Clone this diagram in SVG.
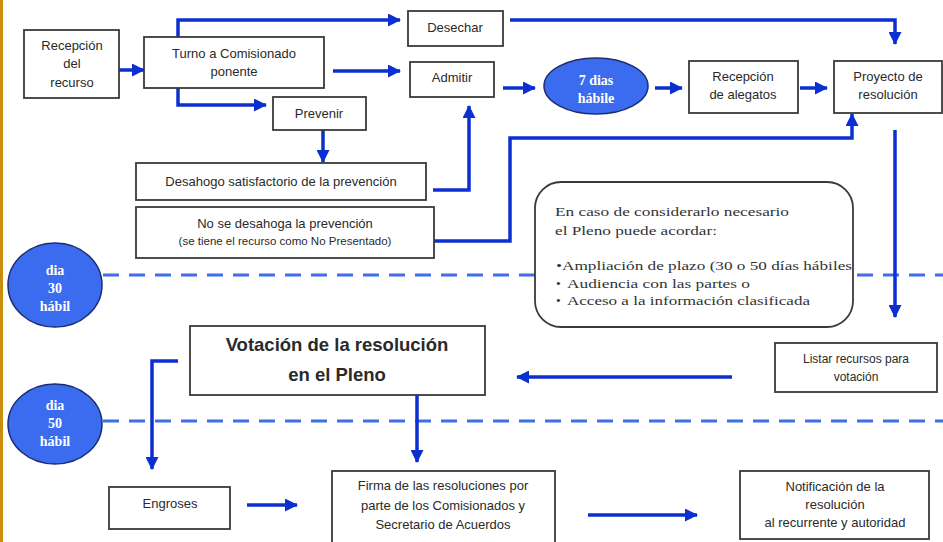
<svg xmlns="http://www.w3.org/2000/svg" width="943" height="542" viewBox="0 0 943 542">
<defs>
<style>
.box{fill:#fff;stroke:#3a3a3a;stroke-width:1.8}
.t{font-family:"Liberation Sans",Arial,sans-serif;font-size:13px;fill:#2a2a2a;text-anchor:middle}
.ts{font-family:"Liberation Serif","Times New Roman",serif;font-size:13.5px;fill:#333}
.tw{font-family:"Liberation Serif","Times New Roman",serif;font-size:14px;font-weight:bold;fill:#fff;text-anchor:middle}
.oval{fill:#3b6cf0;stroke:#1c2c70;stroke-width:1.5}
.c{fill:none;stroke:#0b2fd0;stroke-width:3.5}
.dash{fill:none;stroke:#3d6eea;stroke-width:3;stroke-dasharray:16 10}
</style>
<marker id="ah" markerUnits="userSpaceOnUse" markerWidth="13" markerHeight="13" refX="12" refY="6.5" orient="auto">
<path d="M0,0 L13,6.5 L0,13 z" fill="#0b2fd0"/>
</marker>
</defs>
<rect x="0" y="0" width="943" height="542" fill="#fff"/>
<rect x="0" y="0" width="3" height="542" fill="#c98d0b"/>

<g id="timelines">
<path class="dash" d="M103,275 H943"/>
<path class="dash" d="M103,421 H943"/>
</g>

<g id="connectors" marker-end="url(#ah)">
<path class="c" d="M119,70 H144" marker-end="url(#ah)"/>
<path class="c" d="M178,37 V20 H400" marker-end="url(#ah)"/>
<path class="c" d="M178,88 V105 H266" marker-end="url(#ah)"/>
<path class="c" d="M333,71 H400" marker-end="url(#ah)"/>
<path class="c" d="M510,20 H895 V44" marker-end="url(#ah)"/>
<path class="c" d="M503,88 H535" marker-end="url(#ah)"/>
<path class="c" d="M655,88 H682" marker-end="url(#ah)"/>
<path class="c" d="M800,88 H827" marker-end="url(#ah)"/>
<path class="c" d="M323,130 V162" marker-end="url(#ah)"/>
<path class="c" d="M433,190 H469 V106" marker-end="url(#ah)"/>
<path class="c" d="M434,241 H510 V138 H852 V114" marker-end="url(#ah)"/>
<path class="c" d="M895,130 V317" marker-end="url(#ah)"/>
<path class="c" d="M732,377 H517" marker-end="url(#ah)"/>
<path class="c" d="M178,361 H152 V469" marker-end="url(#ah)"/>
<path class="c" d="M417,395 V462" marker-end="url(#ah)"/>
<path class="c" d="M247,505 H297" marker-end="url(#ah)"/>
<path class="c" d="M588,515 H697" marker-end="url(#ah)"/>
</g>

<g id="recepcion-recurso">
<rect class="box" x="24" y="30" width="95" height="68"/>
<text class="t" x="72" y="50">Recepción</text>
<text class="t" x="72" y="68">del</text>
<text class="t" x="72" y="87">recurso</text>
</g>

<g id="turno">
<rect class="box" x="144" y="37" width="180" height="51"/>
<text class="t" x="234" y="58">Turno a Comisionado</text>
<text class="t" x="234" y="76">ponente</text>
</g>

<g id="prevenir">
<rect class="box" x="273" y="97" width="93" height="33"/>
<text class="t" x="319" y="118">Prevenir</text>
</g>

<g id="desechar">
<rect class="box" x="408" y="11" width="95" height="35"/>
<text class="t" x="455" y="32">Desechar</text>
</g>

<g id="admitir">
<rect class="box" x="410" y="62" width="84" height="35"/>
<text class="t" x="452" y="82">Admitir</text>
</g>

<g id="siete-dias">
<ellipse class="oval" cx="596" cy="86" rx="52" ry="28"/>
<text class="tw" x="596" y="85">7 dias</text>
<text class="tw" x="596" y="103">hábile</text>
</g>

<g id="recepcion-alegatos">
<rect class="box" x="689" y="61" width="109" height="52"/>
<text class="t" x="743" y="81">Recepción</text>
<text class="t" x="743" y="99">de alegatos</text>
</g>

<g id="proyecto">
<rect class="box" x="834" y="61" width="108" height="52"/>
<text class="t" x="888" y="81">Proyecto de</text>
<text class="t" x="888" y="99">resolución</text>
</g>

<g id="desahogo-satisfactorio">
<rect class="box" x="136" y="163" width="290" height="37"/>
<text class="t" x="281" y="186">Desahogo satisfactorio de la prevención</text>
</g>

<g id="no-desahoga">
<rect class="box" x="136" y="207" width="298" height="51"/>
<text class="t" x="285" y="228">No se desahoga la prevención</text>
<text class="t" x="285" y="245" style="font-size:11.5px">(se tiene el recurso como No Presentado)</text>
</g>

<g id="pleno-nota">
<rect class="box" x="535" y="182" width="318" height="145" rx="26" ry="26"/>
<text class="ts" x="555" y="216" textLength="234" lengthAdjust="spacingAndGlyphs">En caso de considerarlo necesario</text>
<text class="ts" x="555" y="235" textLength="162" lengthAdjust="spacingAndGlyphs">el Pleno puede acordar:</text>
<text class="ts" x="556" y="270" textLength="296" lengthAdjust="spacingAndGlyphs">•Ampliación de plazo (30 o 50 días hábiles</text>
<text class="ts" x="556" y="288">•</text>
<text class="ts" x="567" y="288" textLength="183" lengthAdjust="spacingAndGlyphs">Audiencia con las partes o</text>
<text class="ts" x="556" y="305">•</text>
<text class="ts" x="567" y="305" textLength="243" lengthAdjust="spacingAndGlyphs">Acceso a la información clasificada</text>
</g>

<g id="dia-30">
<ellipse class="oval" cx="55" cy="285" rx="47" ry="42"/>
<text class="tw" x="55" y="275">dia</text>
<text class="tw" x="55" y="293">30</text>
<text class="tw" x="55" y="311">hábil</text>
</g>

<g id="dia-50">
<ellipse class="oval" cx="55" cy="424" rx="47" ry="40"/>
<text class="tw" x="55" y="410">dia</text>
<text class="tw" x="55" y="428">50</text>
<text class="tw" x="55" y="446">hábil</text>
</g>

<g id="votacion">
<rect class="box" x="190" y="326" width="295" height="69"/>
<text class="t" x="337" y="351" style="font-size:18.5px;font-weight:bold">Votación de la resolución</text>
<text class="t" x="337" y="381" style="font-size:18.5px;font-weight:bold">en el Pleno</text>
</g>

<g id="listar">
<rect class="box" x="775" y="343" width="162" height="49"/>
<text class="t" x="856" y="363" style="font-size:12px">Listar recursos para</text>
<text class="t" x="856" y="381" style="font-size:12px">votación</text>
</g>

<g id="engroses">
<rect class="box" x="109" y="487" width="121" height="42"/>
<text class="t" x="170" y="508">Engroses</text>
</g>

<g id="firma">
<rect class="box" x="332" y="471" width="223" height="72"/>
<text class="t" x="443" y="490">Firma de las resoluciones por</text>
<text class="t" x="443" y="510">parte de los Comisionados y</text>
<text class="t" x="443" y="529">Secretario de Acuerdos</text>
</g>

<g id="notificacion">
<rect class="box" x="740" y="471" width="189" height="68"/>
<text class="t" x="835" y="491">Notificación de la</text>
<text class="t" x="835" y="509">resolución</text>
<text class="t" x="835" y="527">al recurrente y autoridad</text>
</g>
</svg>
